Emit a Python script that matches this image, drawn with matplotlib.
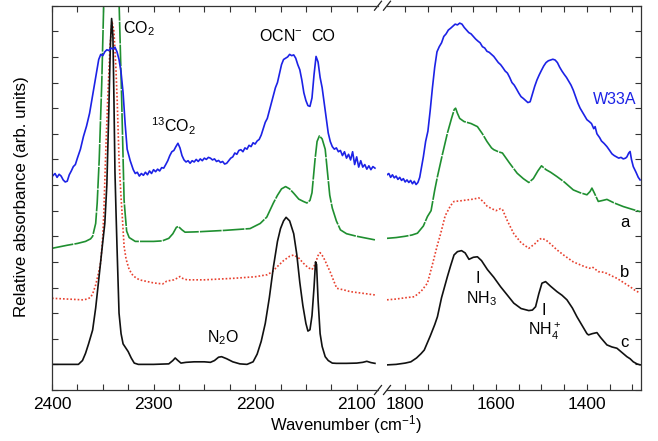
import matplotlib
matplotlib.use("Agg")
import matplotlib.pyplot as plt
from matplotlib.ticker import MultipleLocator, NullFormatter
import numpy as np

plt.rcParams["font.family"] = ["Liberation Sans", "DejaVu Sans"]
plt.rcParams["mathtext.fontset"] = "custom"
plt.rcParams["mathtext.rm"] = "Liberation Sans"
plt.rcParams["mathtext.it"] = "Liberation Sans"

# ---- spectra, left panel (2400-2080 cm-1) ----
blue_left_wn = [2400, 2397, 2395, 2393, 2391, 2389, 2387, 2385, 2383, 2381, 2379, 2377, 2375, 2372,
                2369, 2366, 2363, 2360, 2357, 2354, 2352, 2350, 2348, 2346, 2344, 2342, 2340, 2338,
                2336, 2334, 2332, 2330, 2328, 2326, 2323, 2320, 2318, 2316, 2314, 2312, 2310, 2308,
                2306, 2304, 2302, 2300, 2298, 2296, 2294, 2292, 2290, 2288, 2286, 2284, 2282, 2280,
                2278, 2276, 2274, 2272, 2270, 2268, 2266, 2264, 2262, 2260, 2258, 2256, 2254, 2252,
                2250, 2248, 2246, 2244, 2242, 2240, 2238, 2236, 2234, 2232, 2230, 2228, 2226, 2224,
                2222, 2220, 2218, 2216, 2214, 2212, 2210, 2208, 2206, 2204, 2202, 2200, 2198, 2196,
                2194, 2192, 2190, 2188, 2186, 2184, 2182, 2180, 2178, 2176, 2174, 2172, 2170, 2168,
                2166, 2164, 2162, 2160, 2158, 2156, 2154, 2152, 2150, 2148, 2146, 2144, 2142, 2140,
                2138, 2136, 2134, 2132, 2130, 2128, 2126, 2124, 2122, 2120, 2118, 2116, 2114, 2112,
                2110, 2108, 2106, 2104, 2102, 2100, 2098, 2096, 2094, 2092, 2090, 2088, 2086, 2084,
                2082]
blue_left_y = [8.33, 8.45, 8.30, 8.42, 8.35, 8.20, 8.12, 8.15, 8.40, 8.55, 8.72, 8.80, 9.05, 9.40,
               9.90, 10.30, 10.80, 11.50, 12.20, 12.90, 13.10, 13.05, 13.20, 13.28, 13.25, 13.35, 13.30, 13.38,
               13.20, 12.90, 12.40, 11.60, 10.40, 9.40, 8.95, 8.60, 8.45, 8.50, 8.35, 8.45, 8.38, 8.50,
               8.40, 8.55, 8.45, 8.60, 8.52, 8.62, 8.55, 8.68, 8.66, 8.80, 8.95, 9.15, 9.30, 9.35,
               9.50, 9.63, 9.45, 9.15, 8.98, 8.90, 8.95, 8.85, 8.95, 8.90, 9.00, 8.92, 9.02, 8.95,
               9.05, 9.00, 9.08, 9.05, 8.98, 9.02, 8.92, 8.96, 8.88, 8.92, 8.82, 8.85, 8.95, 9.05,
               9.10, 9.25, 9.20, 9.35, 9.38, 9.30, 9.45, 9.40, 9.55, 9.50, 9.65, 9.60, 9.72, 9.78,
               9.95, 10.20, 10.45, 10.60, 10.90, 11.20, 11.50, 11.80, 12.00, 12.35, 12.70, 12.90, 12.95, 13.00,
               13.10, 13.05, 13.08, 12.95, 12.70, 12.50, 12.10, 11.60, 11.30, 11.10, 11.07, 11.40, 12.30, 13.02,
               12.80, 12.20, 11.80, 11.20, 10.60, 10.03, 9.70, 9.50, 9.40, 9.45, 9.30, 9.35, 9.15, 9.30,
               9.05, 9.20, 8.98, 9.30, 8.80, 9.10, 8.70, 8.95, 8.70, 8.80, 8.62, 8.75, 8.60, 8.72,
               8.66]

green_left_wn = [2400, 2385, 2375, 2367, 2362, 2360, 2357, 2355.5, 2353.5, 2351, 2349, 2346, 2338, 2334,
                 2331.5, 2329, 2328, 2326.5, 2324, 2318, 2300, 2291.5, 2285, 2281, 2277.5, 2275.5, 2272, 2269,
                 2260, 2254, 2230, 2205, 2195, 2188.5, 2182, 2178, 2174, 2170, 2166, 2162, 2157, 2152.5,
                 2149, 2146, 2144, 2141, 2139, 2136.7, 2134, 2131, 2129, 2126.5, 2124, 2120, 2116, 2110,
                 2100, 2082]
green_left_y = [5.53, 5.65, 5.72, 5.80, 5.90, 6.00, 6.50, 7.30, 9.00, 12.00, 15.20, 18.0, 18.0, 15.20,
                11.50, 7.40, 6.90, 6.20, 5.95, 5.80, 5.80, 5.82, 5.92, 6.10, 6.35, 6.38, 6.25, 6.16,
                6.17, 6.18, 6.23, 6.30, 6.50, 6.75, 7.30, 7.60, 7.85, 7.94, 7.85, 7.68, 7.45, 7.36,
                7.30, 7.40, 7.70, 9.00, 9.70, 9.92, 9.80, 9.40, 8.60, 7.60, 7.10, 6.60, 6.25, 6.10,
                6.00, 5.86]

red_left_wn = [2400, 2385, 2370, 2365, 2362, 2360, 2357, 2354, 2352, 2350, 2349, 2347, 2345, 2343,
               2341, 2339, 2337, 2335.8, 2334, 2332, 2331, 2329, 2327, 2324, 2320, 2314, 2300, 2291,
               2287, 2280, 2276, 2274, 2271, 2267, 2250, 2221, 2200, 2188, 2183, 2178.6, 2172, 2166,
               2162, 2157, 2152.5, 2148, 2144, 2141, 2138, 2136, 2133, 2130, 2126, 2122, 2119.6, 2112,
               2106.5, 2095, 2082]
red_left_y = [3.58, 3.55, 3.52, 3.55, 3.62, 3.75, 4.10, 4.60, 5.00, 6.00, 6.90, 9.40, 11.50, 13.30,
              14.40, 14.00, 12.50, 11.30, 9.00, 7.50, 6.90, 5.60, 5.10, 4.70, 4.45, 4.30, 4.18, 4.14,
              4.25, 4.30, 4.38, 4.43, 4.35, 4.30, 4.30, 4.36, 4.42, 4.50, 4.62, 4.80, 5.05, 5.22,
              5.27, 5.15, 4.95, 4.78, 4.70, 4.90, 5.25, 5.36, 5.20, 4.95, 4.60, 4.20, 3.97, 3.90,
              3.84, 3.78, 3.71]

black_left_wn = [2400, 2385, 2374, 2370, 2367, 2364, 2360, 2357, 2354, 2350.5, 2348, 2346, 2344, 2342.5,
                 2341.3, 2340, 2339, 2338, 2337, 2336, 2334, 2332, 2330, 2327, 2325, 2322, 2319, 2315,
                 2300, 2285, 2281, 2278.7, 2276, 2273, 2268, 2260, 2250, 2244, 2240, 2236, 2233, 2228,
                 2222, 2215, 2208, 2202, 2198, 2194, 2190, 2186, 2182, 2178, 2175, 2172, 2169.5, 2166,
                 2162, 2159, 2156, 2153, 2150, 2148, 2146, 2144, 2142, 2140.5, 2139.5, 2138, 2136, 2134,
                 2131, 2128, 2124, 2120, 2110, 2100, 2094, 2090, 2086, 2082]
black_left_y = [1.00, 1.00, 1.00, 1.15, 1.43, 1.80, 2.34, 3.20, 4.30, 5.60, 6.50, 8.00, 11.00, 13.50,
                14.50, 13.80, 11.30, 8.50, 7.00, 5.60, 3.00, 2.20, 1.80, 1.62, 1.50, 1.25, 1.05, 1.00,
                1.00, 1.02, 1.15, 1.25, 1.15, 1.05, 1.08, 1.10, 1.10, 1.08, 1.15, 1.28, 1.30, 1.22,
                1.10, 1.02, 1.00, 1.10, 1.40, 1.90, 2.60, 3.60, 4.80, 5.80, 6.30, 6.60, 6.74, 6.60,
                6.10, 5.30, 4.20, 3.30, 2.60, 2.30, 2.35, 2.90, 4.00, 5.00, 4.90, 3.50, 2.20, 1.70,
                1.30, 1.15, 1.05, 1.04, 1.04, 1.05, 1.08, 1.12, 1.07, 1.04]

# ---- spectra, right panel (1840-1280 cm-1) ----
blue_right_wn = [1840, 1836, 1832, 1828, 1824, 1820, 1816, 1812, 1808, 1804, 1800, 1796, 1792, 1788,
                 1784, 1780, 1776, 1772, 1768, 1765, 1760, 1755, 1750, 1745, 1740, 1735, 1730, 1725,
                 1720, 1715, 1710, 1705, 1700, 1695, 1690, 1685, 1680, 1675, 1670, 1665, 1660, 1655,
                 1650, 1645, 1640, 1635, 1630, 1625, 1620, 1615, 1610, 1605, 1600, 1595, 1590, 1585,
                 1580, 1575, 1570, 1565, 1560, 1555, 1550, 1545, 1540, 1535, 1530, 1525, 1520, 1515,
                 1510, 1505, 1500, 1495, 1490, 1485, 1480, 1475, 1470, 1465, 1460, 1455, 1450, 1445,
                 1440, 1435, 1430, 1425, 1420, 1415, 1410, 1405, 1400, 1395, 1390, 1385, 1382, 1378,
                 1372, 1368, 1362, 1356, 1350, 1345, 1340, 1335, 1330, 1325, 1320, 1315, 1312, 1308,
                 1305, 1302, 1298, 1292, 1287, 1283]
blue_right_y = [8.40, 8.45, 8.30, 8.40, 8.28, 8.35, 8.22, 8.30, 8.18, 8.25, 8.12, 8.20, 8.10, 8.18,
                8.05, 8.15, 8.02, 8.10, 8.30, 8.60, 9.10, 9.70, 10.10, 10.90, 11.80, 12.60, 13.20, 13.40,
                13.55, 13.80, 13.90, 14.05, 14.12, 14.20, 14.28, 14.25, 14.32, 14.28, 14.15, 14.05, 13.95, 13.90,
                13.80, 13.70, 13.62, 13.55, 13.40, 13.35, 13.22, 13.18, 13.10, 13.02, 12.90, 12.78, 12.70, 12.58,
                12.45, 12.37, 12.20, 12.00, 11.90, 11.75, 11.59, 11.45, 11.38, 11.30, 11.22, 11.25, 11.55, 11.85,
                12.10, 12.30, 12.48, 12.65, 12.78, 12.85, 12.88, 12.91, 12.88, 12.78, 12.60, 12.45, 12.32, 12.20,
                12.05, 11.90, 11.70, 11.45, 11.20, 11.00, 10.85, 10.70, 10.55, 10.48, 10.40, 10.20, 10.28, 10.00,
                9.85, 9.72, 9.62, 9.50, 9.35, 9.22, 9.15, 9.10, 9.05, 9.08, 9.02, 9.05, 9.10, 9.25,
                9.31, 9.00, 8.72, 8.50, 8.30, 8.20]

green_right_wn = [1840, 1820, 1800, 1785, 1773, 1760, 1751, 1743, 1735, 1729, 1718, 1707, 1698, 1692,
                  1689, 1685, 1680, 1670.6, 1655, 1641, 1630, 1620, 1610, 1605, 1595, 1586, 1570, 1553.5,
                  1540, 1528, 1518, 1508, 1500, 1490, 1480, 1466, 1450, 1430, 1415, 1400, 1393, 1389,
                  1384, 1375, 1365, 1356, 1340, 1320, 1300, 1283]
green_right_y = [5.92, 5.95, 6.00, 6.05, 6.12, 6.40, 6.77, 7.00, 7.80, 8.33, 9.20, 10.03, 10.60, 10.95,
                 11.00, 10.80, 10.60, 10.48, 10.40, 10.28, 10.00, 9.70, 9.45, 9.38, 9.30, 9.25, 8.85, 8.46,
                 8.25, 8.10, 8.25, 8.55, 8.75, 8.60, 8.50, 8.33, 8.12, 7.81, 7.70, 7.62, 7.75, 7.88,
                 7.70, 7.36, 7.40, 7.44, 7.30, 7.16, 7.05, 6.96]

red_right_wn = [1840, 1820, 1800, 1780, 1765, 1751, 1740, 1730, 1722, 1712, 1700, 1692.5, 1680, 1663,
                1650, 1638, 1628, 1620, 1612, 1600, 1590, 1586, 1575, 1561, 1545, 1528, 1515, 1505,
                1499, 1490, 1480, 1466, 1450, 1430, 1410, 1395, 1388, 1382, 1375, 1365, 1356, 1345,
                1334, 1320, 1305, 1295, 1283]
red_right_y = [3.52, 3.55, 3.60, 3.64, 3.85, 4.17, 4.90, 5.60, 6.10, 6.80, 7.20, 7.36, 7.38, 7.42,
               7.45, 7.50, 7.35, 7.18, 7.10, 7.00, 7.08, 7.05, 6.60, 6.10, 5.75, 5.53, 5.70, 5.88,
               5.92, 5.85, 5.70, 5.47, 5.25, 5.00, 4.85, 4.75, 4.80, 4.72, 4.62, 4.60, 4.55, 4.45,
               4.36, 4.20, 4.03, 3.90, 3.78]

black_right_wn = [1840, 1820, 1800, 1787.5, 1775, 1765, 1758, 1745, 1735, 1729, 1720, 1707, 1700, 1692.5,
                  1685, 1676, 1668, 1659.6, 1650, 1641, 1632, 1619, 1605, 1590, 1575, 1561, 1545, 1528,
                  1520, 1513, 1506, 1499, 1491, 1480, 1466, 1455, 1444, 1432, 1422, 1410, 1400, 1396.5,
                  1388, 1378, 1370, 1356, 1345, 1334, 1322, 1312, 1305, 1298, 1290, 1283]
black_right_y = [0.98, 1.00, 1.05, 1.10, 1.25, 1.42, 1.56, 2.10, 2.55, 2.86, 3.60, 4.43, 4.85, 5.27,
                 5.40, 5.44, 5.35, 5.10, 5.18, 5.20, 5.05, 4.70, 4.40, 4.03, 3.70, 3.39, 3.18, 3.10,
                 3.12, 3.25, 3.75, 4.17, 4.23, 4.05, 3.84, 3.70, 3.52, 3.20, 2.86, 2.50, 2.20, 2.15,
                 2.20, 2.24, 2.05, 1.76, 1.68, 1.63, 1.45, 1.30, 1.22, 1.10, 1.02, 0.98]

left_xticks = [2400, 2300, 2200, 2100]
right_xticks = [1800, 1600, 1400]

BLUE = "#1c22e6"
GREEN = "#1f8f30"
RED = "#e8402e"
BLACK = "#111111"

fig = plt.figure(figsize=(6.58, 4.41), dpi=100)
W, H = 658.0, 441.0
bottom = (H - 390) / H
height = (390 - 5.7) / H
ax1 = fig.add_axes([52 / W, bottom, (378 - 52) / W, height])
ax2 = fig.add_axes([387 / W, bottom, (641 - 387) / W, height])

lw = 1.2
for ax, bx, by, gx, gy, rx, ry, kx, ky in [
    (ax1, blue_left_wn, blue_left_y, green_left_wn, green_left_y,
     red_left_wn, red_left_y, black_left_wn, black_left_y),
    (ax2, blue_right_wn, blue_right_y, green_right_wn, green_right_y,
     red_right_wn, red_right_y, black_right_wn, black_right_y),
]:
    ax.plot(gx, gy, color=GREEN, lw=lw, dashes=(13, 0.7))
    ax.plot(rx, ry, color=RED, lw=lw, linestyle=(0, (1, 1.2)))
    ax.plot(kx, ky, color=BLACK, lw=lw)
    ax.plot(bx, by, color=BLUE, lw=lw)
    ax.set_ylim(0, 15)
    ax.yaxis.set_major_locator(MultipleLocator(1))
    ax.yaxis.set_major_formatter(NullFormatter())
    ax.tick_params(axis="both", which="both", direction="in", length=4, width=0.8,
                   top=True, labelsize=12.5, pad=5, color="#333333")
    for sp in ax.spines.values():
        sp.set_linewidth(0.9)
        sp.set_color("#333333")

ax1.set_xlim(2400, 2079)
ax1.set_xticks(left_xticks)
ax1.xaxis.set_minor_locator(MultipleLocator(25))
ax1.spines["right"].set_visible(False)
ax1.tick_params(axis="y", which="both", right=False)

ax2.set_xlim(1840, 1281)
ax2.set_xticks(right_xticks)
ax2.xaxis.set_minor_locator(MultipleLocator(50))
ax2.spines["left"].set_visible(False)
ax2.tick_params(axis="y", which="both", left=False, right=True)

# break marks
d = 3.5 / (378 - 52)
dy = 4.5 / 384.3
for yy in (0, 1):
    ax1.plot([1 - d, 1 + d], [yy - dy, yy + dy], transform=ax1.transAxes,
             color="#222222", lw=0.9, clip_on=False)
d2 = 3.5 / (641 - 387)
for yy in (0, 1):
    ax2.plot([-d2, d2], [yy - dy, yy + dy], transform=ax2.transAxes,
             color="#222222", lw=0.9, clip_on=False)

# labels
fs = 11.5
ax1.text(2330, 14.1, "CO$_2$", fontsize=fs, ha="left", va="center")
ax1.text(2303, 10.3, "$^{13}$CO$_2$", fontsize=fs, ha="left", va="center")
ax1.text(2175, 13.8, "OCN$^{-}$", fontsize=fs, ha="center", va="center")
ax1.text(2133, 13.8, "CO", fontsize=fs, ha="center", va="center")
ax1.text(2232, 2.05, "N$_2$O", fontsize=fs, ha="center", va="center")

ax2.text(1340, 11.33, "W33A", fontsize=fs, ha="center", va="center", color=BLUE)
ax2.text(1316, 6.52, "a", fontsize=12, ha="center", va="center")
ax2.text(1318, 4.6, "b", fontsize=12, ha="center", va="center")
ax2.text(1318, 1.87, "c", fontsize=12, ha="center", va="center")
ax2.text(1641, 4.37, "I", fontsize=fs, ha="center", va="center")
ax2.text(1632, 3.55, "NH$_3$", fontsize=fs, ha="center", va="center")
ax2.text(1495, 3.12, "I", fontsize=fs, ha="center", va="center")
ax2.text(1493, 2.3, "NH$_4^+$", fontsize=fs, ha="center", va="center")

fig.text(346 / W, 1 - 425 / H, "Wavenumber (cm$^{-1}$)", fontsize=12, ha="center", va="center")
fig.text(22 / W, 1 - 197 / H, "Relative absorbance (arb. units)", fontsize=12.2,
         ha="center", va="center", rotation=90)

fig.savefig("out.png", dpi=100)
